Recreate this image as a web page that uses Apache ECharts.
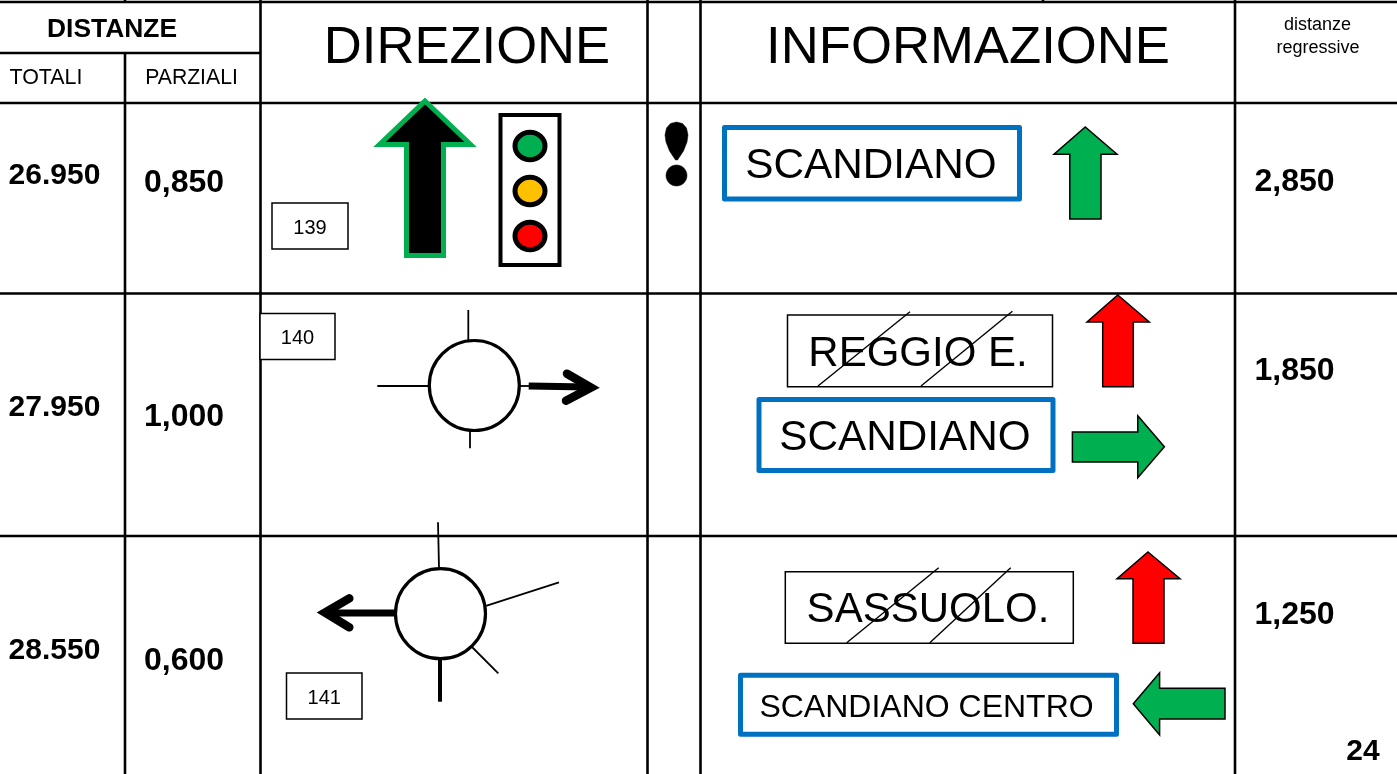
<!DOCTYPE html>
<html><head><meta charset="utf-8">
<style>html,body{margin:0;padding:0;background:#fff}#c{width:1397px;height:774px}</style>
<script src="https://cdn.jsdelivr.net/npm/echarts@6/dist/echarts.min.js"></script>
</head><body><div id="c"></div>
<script>
// ---- content ----
const headers = ['DISTANZE','TOTALI','PARZIALI','DIREZIONE','INFORMAZIONE'];
const regressiveHeader = ['distanze','regressive'];
const totals = ['26.950','27.950','28.550'];
const partials = ['0,850','1,000','0,600'];
const regressive = ['2,850','1,850','1,250'];
const junctionIds = ['139','140','141'];
const signs = ['SCANDIANO','REGGIO E.','SCANDIANO','SASSUOLO.','SCANDIANO CENTRO'];
const pageNumber = '24';

// ---- layout, in page units of the hidden axes ----
const FONT='"Liberation Sans",Arial,sans-serif', BLK='#000', BLUE='#0070C0', GREEN='#00B050', RED='#FF0000', AMBER='#FFC000';
const marks=[];
const line=(pts,lw,color,opt)=>marks.push(Object.assign({k:'line',pts,lw,color:color||BLK},opt||{}));
const poly=(pts,fill,stroke,lw,join)=>marks.push({k:'poly',pts,fill,stroke,lw,join});
const rect=(x0,y0,x1,y1,stroke,lw,fill,join)=>poly([[x0,y0],[x1,y0],[x1,y1],[x0,y1]],fill||'#fff',stroke,lw,join);
const circ=(x,y,rx,ry,fill,lw)=>marks.push({k:'circ',x,y,rx,ry,fill,lw});
const text=(s,x,y,size,bold,align)=>marks.push({k:'text',s,x,y:y+size*0.065,size,bold,align});

// table rules
const GW=2.6;
[[0,2,1397,2],[0,103,1397,103],[0,293.5,1397,293.5],[0,536,1397,536],[0,53,260,53]].forEach(l=>line([[l[0],l[1]],[l[2],l[3]]],GW));
[[125,53,774],[260.5,0,774],[647.5,0,774],[700.5,0,774],[1235,0,774],[125,0,2],[1043,0,2]].forEach(l=>line([[l[0],l[1]],[l[0],l[2]]],GW));

// header text
text(headers[0],112,28,26.4,true);
text(headers[1],46,77,21.4);
text(headers[2],191.5,77,21.2);
text(headers[3],467,45,52.6);
text(headers[4],968,45,52.7);
text(regressiveHeader[0],1317.5,24,18);
text(regressiveHeader[1],1318,47,18);

// distance columns
[[174],[406],[649]].forEach((r,i)=>text(totals[i],54.5,r[0],30,true));
[[181],[415],[659]].forEach((r,i)=>text(partials[i],184,r[0],32,true));
[[180],[369],[613]].forEach((r,i)=>text(regressive[i],1294.5,r[0],32,true));
text(pageNumber,1363,750,30,true);

// junction id boxes
[[272,203,348,249],[260,313.5,335,359.5],[286.5,673,362,719]].forEach((b,i)=>{
  rect(b[0],b[1],b[2],b[3],BLK,1.5);
  text(junctionIds[i],(b[0]+b[2])/2,(b[1]+b[3])/2+1,20);
});

// straight-ahead arrow and traffic light
poly([[425,101],[470.5,144.5],[443.5,144.5],[443.5,255.5],[406.5,255.5],[406.5,144.5],[379.5,144.5]],BLK,GREEN,5,'miter');
rect(500.5,115,559.5,265,BLK,4,'#fff','miter');
[[146,GREEN],[191,AMBER],[236,RED]].forEach(c=>circ(530,c[0],15,13.7,c[1],5));

// exclamation mark
poly([[676.5,122],[682.5,123.5],[686.5,128],[688,135],[687,142],[683.5,151],[677.5,160],[675.5,160],[669.5,151],[666,142],[665,135],[666.5,128],[670.5,123.5]],BLK,BLK,0.5);
circ(676.5,175.5,10.5,10.5,BLK,0.5);

// roundabout 1
line([[468.3,310],[468.3,340]],1.8);
line([[377.3,386],[429,386]],1.8);
line([[470,431],[470,448.3]],1.8);
line([[519,386],[530,386]],1.8);
circ(474.3,385.5,45,45,'#fff',3.2);
line([[528.7,386],[588,387]],7);
line([[567,373.7],[591,387.5],[566,400.7]],8.5,BLK,{cap:'round',join:'miter'});

// roundabout 2
line([[438,522.3],[439,568]],1.8);
line([[486,605.9],[559,582.3]],1.8);
line([[472,647],[498.3,673.3]],1.8);
line([[440,659],[440,701.7]],4);
circ(440.5,613.7,45,45,'#fff',3.2);
line([[394,613],[328,613]],7);
line([[349.3,598.3],[325,612.5],[349.3,627.3]],8.5,BLK,{cap:'round',join:'miter'});

// information signs
const blueSign=(x0,y0,x1,y1,s,tx,ty,size)=>{rect(x0,y0,x1,y1,BLUE,5,'#fff','round');text(s,tx,ty,size);};
blueSign(724.5,127.5,1019.5,199,signs[0],871,164,42.3);
blueSign(759,399.5,1053,470.5,signs[2],905,436,42.3);
blueSign(740.5,675.3,1116.5,734.3,signs[4],926.5,706,32);
const oldSign=(x0,y0,x1,y1,s,tx,ty,size,d)=>{
  rect(x0,y0,x1,y1,BLK,1.5);text(s,tx,ty,size);
  d.forEach(l=>line([[l[0],l[1]],[l[2],l[3]]],1.4));
};
oldSign(787.5,315,1052.5,386.7,signs[1],918,352,42,[[818,386,910,311.7],[921,386,1012.4,311.3]]);
oldSign(785.3,571.7,1073.3,643.3,signs[3],928,608,42,[[846.7,642.7,938.7,567.7],[929.8,642.7,1010.7,567.7]]);

// block arrows
const upArrow=(tx,ty,by,hx0,hx1,sx0,sx1,bot,fill)=>poly([[tx,ty],[hx1,by],[sx1,by],[sx1,bot],[sx0,bot],[sx0,by],[hx0,by]],fill,BLK,1.5,'miter');
upArrow(1085.3,127,154.3,1054,1117,1069.8,1101,219,GREEN);
upArrow(1117.8,295,322,1087,1149.3,1102.7,1133.3,386.7,RED);
upArrow(1148,552,578.7,1117,1180,1133,1164,643.3,RED);
poly([[1072.4,432],[1137.8,432],[1137.8,415.7],[1164.4,446.7],[1137.8,477.7],[1137.8,462],[1072.4,462]],GREEN,BLK,1.5,'miter');
poly([[1133.3,703.7],[1159.6,672.7],[1159.6,688.3],[1225,688.3],[1225,719],[1159.6,719],[1159.6,735]],GREEN,BLK,1.5,'miter');

// ---- drawing, every position goes through the axes ----
function renderItem(params,api){
  const m=marks[params.dataIndex], c=p=>api.coord(p);
  if(m.k==='line') return {type:'polyline',silent:true,shape:{points:m.pts.map(c)},
    style:{stroke:m.color,lineWidth:m.lw,fill:null,lineCap:m.cap||'butt',lineJoin:m.join||'miter',miterLimit:10}};
  if(m.k==='poly') return {type:'polygon',silent:true,shape:{points:m.pts.map(c)},
    style:{fill:m.fill,stroke:m.stroke,lineWidth:m.lw,lineJoin:m.join||'miter',miterLimit:10}};
  if(m.k==='circ'){const a=c([m.x,m.y]),b=c([m.x+m.rx,m.y+m.ry]);
    return {type:'ellipse',silent:true,shape:{cx:a[0],cy:a[1],rx:b[0]-a[0],ry:b[1]-a[1]},style:{fill:m.fill,stroke:BLK,lineWidth:m.lw}};}
  const a=c([m.x,m.y]);
  return {type:'text',silent:true,x:a[0],y:a[1],style:{text:m.s,fill:BLK,fontFamily:FONT,fontSize:m.size,
    fontWeight:m.bold?'bold':'normal',textAlign:m.align||'center',textVerticalAlign:'middle',verticalAlign:'middle'}};
}
const chart=echarts.init(document.getElementById('c'),null,{renderer:'canvas'});
chart.setOption({
  animation:false,
  grid:{left:0,right:0,top:0,bottom:0,containLabel:false},
  xAxis:{type:'value',min:0,max:1397,show:false},
  yAxis:{type:'value',min:0,max:774,inverse:true,show:false},
  series:[{type:'custom',coordinateSystem:'cartesian2d',clip:false,silent:true,
    renderItem,data:marks.map((m,i)=>[i]),encode:{x:0,y:0}}]
});
</script></body></html>
